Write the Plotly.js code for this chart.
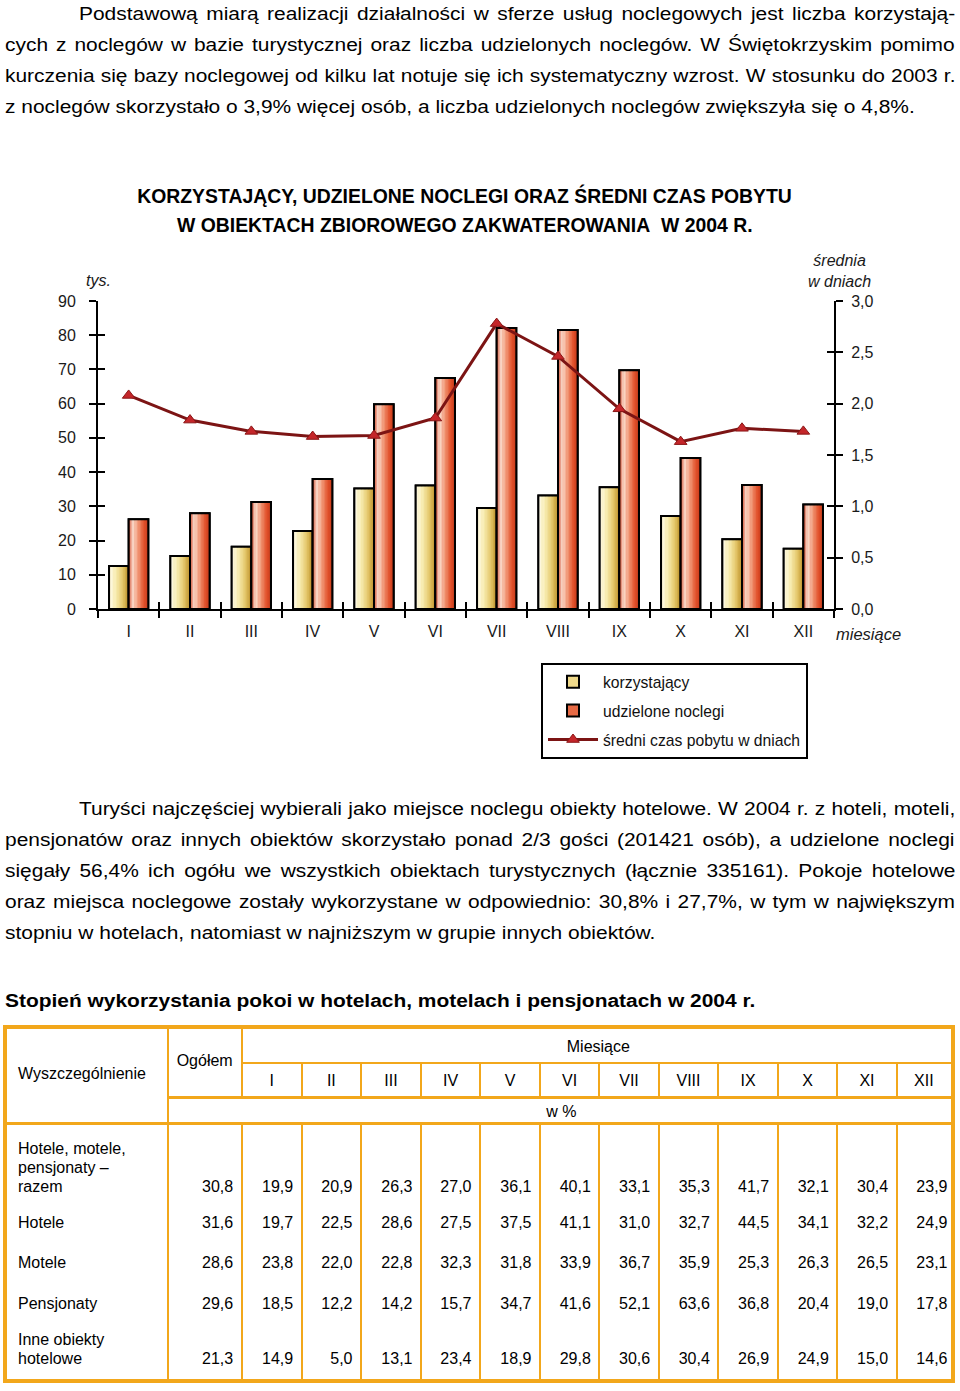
<!DOCTYPE html>
<html lang="pl">
<head>
<meta charset="utf-8">
<script src="https://cdn.plot.ly/plotly-3.0.1.min.js"></script>
<style>
  html,body{margin:0;padding:0;background:#fff;}
  body{width:960px;height:1391px;position:relative;overflow:hidden;font-family:"Liberation Sans",Arial,sans-serif;color:#000;}
  .ln,.hd{position:absolute;height:31px;line-height:31px;font-size:18.7px;white-space:nowrap;transform:scaleX(1.12);transform-origin:0 50%;}
  .hd{font-weight:bold;}
  .ln span{display:inline-block;white-space:nowrap;}
  .cell{position:absolute;font-size:16px;line-height:19px;height:19px;white-space:nowrap;}
  .ol{position:absolute;background:#f2a71b;}
  #chart{position:absolute;left:0;top:160px;width:960px;height:620px;}
</style>
</head>
<body>
<div id="chart"></div>
<script>
// ---------------- DATA ----------------
const months = ['I','II','III','IV','V','VI','VII','VIII','IX','X','XI','XII'];
const guests = [12.6,15.5,18.2,22.8,35.2,36.1,29.5,33.2,35.6,27.2,20.4,17.6];      // korzystający (tys.)
const nights = [26.2,28.0,31.3,38.0,59.8,67.5,82.1,81.5,69.8,44.1,36.2,30.5];      // udzielone noclegi (tys.)
const avgStay = [2.08,1.84,1.73,1.68,1.69,1.86,2.78,2.46,1.95,1.63,1.76,1.73];     // średni czas pobytu (dni)
const leftTicks = [0,10,20,30,40,50,60,70,80,90];

const tableMonths = ['I','II','III','IV','V','VI','VII','VIII','IX','X','XI','XII'];
const rowLabels = [['Hotele, motele,','pensjonaty –','razem'],['Hotele'],['Motele'],['Pensjonaty'],['Inne obiekty','hotelowe']];
const totals = [30.8,31.6,28.6,29.6,21.3];
const rowRazem = [19.9,20.9,26.3,27.0,36.1,40.1,33.1,35.3,41.7,32.1,30.4,23.9];
const rowHotele = [19.7,22.5,28.6,27.5,37.5,41.1,31.0,32.7,44.5,34.1,32.2,24.9];
const rowMotele = [23.8,22.0,22.8,32.3,31.8,33.9,36.7,35.9,25.3,26.3,26.5,23.1];
const rowPensjonaty = [18.5,12.2,14.2,15.7,34.7,41.6,52.1,63.6,36.8,20.4,19.0,17.8];
const rowInne = [14.9,5.0,13.1,23.4,18.9,29.8,30.6,30.4,26.9,24.9,15.0,14.6];

const para1 = [
  'Podstawową miarą realizacji działalności w sferze usług noclegowych jest liczba korzystają-',
  'cych z noclegów w bazie turystycznej oraz liczba udzielonych noclegów. W Świętokrzyskim pomimo',
  'kurczenia się bazy noclegowej od kilku lat notuje się ich systematyczny wzrost. W stosunku do 2003 r.',
  'z noclegów skorzystało o 3,9% więcej osób, a liczba udzielonych noclegów zwiększyła się o 4,8%.'
];
const para2 = [
  'Turyści najczęściej wybierali jako miejsce noclegu obiekty hotelowe. W 2004 r. z hoteli, moteli,',
  'pensjonatów oraz innych obiektów skorzystało ponad 2/3 gości (201421 osób), a udzielone noclegi',
  'sięgały 56,4% ich ogółu we wszystkich obiektach turystycznych (łącznie 335161). Pokoje hotelowe',
  'oraz miejsca noclegowe zostały wykorzystane w odpowiednio: 30,8% i 27,7%, w tym w największym',
  'stopniu w hotelach, natomiast w najniższym w grupie innych obiektów.'
];
const tableHeading = 'Stopień wykorzystania pokoi w hotelach, motelach i pensjonatach w 2004 r.';

// ---------------- TEXT ----------------
const SX = 1.12;
const justified = [];
function addPara(lines, firstCenter) {
  lines.forEach((t, i) => {
    const d = document.createElement('div');
    d.className = 'ln';
    const indent = i === 0 ? 74 : 0;
    d.style.left = (5 + indent) + 'px';
    d.style.top = (firstCenter + i * 31.1 - 15.5) + 'px';
    const s = document.createElement('span');
    s.textContent = t;
    d.appendChild(s);
    document.body.appendChild(d);
    if (i < lines.length - 1) justified.push({span: s, target: (950 - indent) / SX});
  });
}
addPara(para1, 13);
addPara(para2, 808);
const hd = document.createElement('div');
hd.className = 'hd';
hd.style.left = '5px';
hd.style.top = (1000 - 15.5) + 'px';
hd.textContent = tableHeading;
document.body.appendChild(hd);

function justify() {
  justified.forEach(o => {
    o.span.style.wordSpacing = '0px';
    const w = o.span.offsetWidth;
    const n = (o.span.textContent.match(/ /g) || []).length;
    if (n > 0) o.span.style.wordSpacing = ((o.target - w) / n) + 'px';
  });
}
justify();
if (document.fonts && document.fonts.ready) document.fonts.ready.then(justify);

// ---------------- TABLE ----------------
const edges = [167.7, 241.7, 301.7, 361, 421, 480, 540, 599.3, 658.7, 718.3, 777.7, 837.3, 896.7, 951];
function box(x, y, w, h) {
  const d = document.createElement('div');
  d.className = 'ol';
  d.style.left = x + 'px'; d.style.top = y + 'px';
  d.style.width = w + 'px'; d.style.height = h + 'px';
  document.body.appendChild(d);
}
function txt(str, x, yc, align) {
  const d = document.createElement('div');
  d.className = 'cell';
  d.textContent = str;
  d.style.top = (yc - 9.5) + 'px';
  if (align === 'left') { d.style.left = x + 'px'; }
  else if (align === 'right') { d.style.right = (960 - x) + 'px'; d.style.textAlign = 'right'; }
  else { d.style.left = (x - 100) + 'px'; d.style.width = '200px'; d.style.textAlign = 'center'; }
  document.body.appendChild(d);
}
// outer border
box(3, 1025, 952, 4); box(3, 1379, 952, 4); box(3, 1025, 4, 358); box(951, 1025, 4, 358);
// horizontal inner lines
box(241.7, 1061.7, 711, 2);
box(167.7, 1095.5, 785, 3);
box(5, 1122, 948, 3);
// vertical inner lines
box(166.7, 1027, 2, 354);
box(240.7, 1027, 2, 70); box(240.7, 1123, 2, 258);
for (let i = 2; i < edges.length - 1; i++) {
  box(edges[i] - 1, 1062, 2, 35);
  box(edges[i] - 1, 1123, 2, 258);
}
// header texts
txt('Wyszczególnienie', 18, 1073.5, 'left');
txt('Ogółem', (edges[0] + edges[1]) / 2, 1060.5, 'center');
txt('Miesiące', (edges[1] + 953) / 2 + 1, 1046, 'center');
tableMonths.forEach((m, i) => txt(m, (edges[i + 1] + edges[i + 2]) / 2, 1080.5, 'center'));
txt('w %', (edges[0] + 953) / 2 + 1, 1111.5, 'center');
// body
const fmt = v => v.toFixed(1).replace('.', ',');
const bodyRows = [rowRazem, rowHotele, rowMotele, rowPensjonaty, rowInne];
const rowY = [1186, 1222.5, 1262.5, 1303, 1358.5];
bodyRows.forEach((row, r) => {
  const lab = rowLabels[r];
  lab.forEach((l, k) => txt(l, 18, rowY[r] - (lab.length - 1 - k) * 19, 'left'));
  txt(fmt(totals[r]), edges[1] - 8.5, rowY[r], 'right');
  row.forEach((v, i) => {
    const right = i === row.length - 1 ? 947.5 : edges[i + 2] - 8.5;
    txt(fmt(v), right, rowY[r], 'right');
  });
});

// ---------------- CHART ----------------
function hex2rgb(h) { return [1,3,5].map(i => parseInt(h.substr(i,2),16)); }
function interp(stops, t) {
  for (let i = 0; i < stops.length - 1; i++) {
    const [t0, c0] = stops[i], [t1, c1] = stops[i+1];
    if (t >= t0 && t <= t1) {
      const f = (t - t0) / (t1 - t0), a = hex2rgb(c0), b = hex2rgb(c1);
      return 'rgb(' + a.map((v, k) => Math.round(v + (b[k] - v) * f)).join(',') + ')';
    }
  }
  return stops[stops.length-1][1];
}
const Y_STOPS = [[0,'#fffcee'],[0.35,'#f8edb2'],[0.7,'#e3c567'],[1,'#b88a22']];
const R_STOPS = [[0,'#cc3a1c'],[0.2,'#fbe0d2'],[0.5,'#f19674'],[0.78,'#e1502a'],[1,'#c43818']];
const N = 14;

const traces = [];
function barSeries(vals, name, off, w, stops, legendColor, grp) {
  traces.push({type:'bar', x:months, y:vals, name:name, offset:off, width:w,
    marker:{color:legendColor, line:{color:'#000', width:2}}, legendgroup:grp, hoverinfo:'skip'});
  for (let k = 0; k < N; k++) {
    traces.push({type:'bar', x:months, y:vals, offset:off + k * w / N,
      width: w / N + (k < N - 1 ? 0.004 : 0),
      marker:{color:interp(stops, (k + 0.5) / N), line:{width:0}},
      showlegend:false, hoverinfo:'skip', legendgroup:grp});
  }
  traces.push({type:'bar', x:months, y:vals, offset:off, width:w,
    marker:{color:'rgba(0,0,0,0)', line:{color:'#000', width:2}}, showlegend:false, hoverinfo:'skip', legendgroup:grp});
}
barSeries(guests, 'korzystający', -0.32, 0.32, Y_STOPS, '#efd98a', 'g1');
barSeries(nights, 'udzielone noclegi', 0.0, 0.32, R_STOPS, '#e76a45', 'g2');
traces.push({type:'scatter', mode:'lines+markers', x:months, y:avgStay, yaxis:'y2', name:'średni czas pobytu w dniach',
  line:{color:'#7c1414', width:3}, marker:{symbol:'triangle-up', size:11, color:'#c4262a', line:{color:'#8a1616', width:1}},
  legendgroup:'g3', hoverinfo:'skip'});
// helper traces hosting the inner halves of the crossing ticks
traces.push({type:'scatter', mode:'markers', x:months, y:guests, xaxis:'x2', yaxis:'y3', marker:{opacity:0}, showlegend:false, hoverinfo:'skip', legendgroup:'g4'});
traces.push({type:'scatter', mode:'markers', x:months, y:avgStay, xaxis:'x2', yaxis:'y4', marker:{opacity:0}, showlegend:false, hoverinfo:'skip', legendgroup:'g4'});

const PL = 98, PT = 141, PW = 736, PH = 308;
const px = X => (X - PL) / PW;              // page x -> paper x
const py = Y => (PT + PH - (Y - 160)) / PH; // page y -> paper y

const ax = {showgrid:false, zeroline:false, tickcolor:'#000', tickwidth:2, ticklen:7, tickfont:{size:16}};
const layout = {
  width:960, height:620,
  margin:{l:PL, r:960 - PL - PW, t:PT, b:620 - PT - PH, pad:0},
  paper_bgcolor:'#fff', plot_bgcolor:'rgba(0,0,0,0)',
  separators:', ',
  barmode:'overlay',
  font:{family:'"Liberation Sans", Arial, sans-serif', size:16, color:'#1a1a1a'},
  title:{text:'<b>KORZYSTAJĄCY, UDZIELONE NOCLEGI ORAZ ŚREDNI CZAS POBYTU</b>',
    x:464.5/960, xref:'container', xanchor:'center', y:1 - 36/620, yref:'container', yanchor:'middle',
    font:{size:19.4, color:'#000'}},
  annotations:[
    {text:'<b>W OBIEKTACH ZBIOROWEGO ZAKWATEROWANIA\u00a0 W 2004 R.</b>', xref:'paper', yref:'paper',
      x:px(464.5), y:py(225), xanchor:'center', yanchor:'middle', showarrow:false, font:{size:19.4, color:'#000'}},
    {text:'<i>tys.</i>', xref:'paper', yref:'paper', x:px(98.5), y:py(280.5), xanchor:'center', yanchor:'middle', showarrow:false, font:{size:16}},
    {text:'<i>średnia<br>w dniach</i>', xref:'paper', yref:'paper', x:px(839.5), y:py(270.5), xanchor:'center', yanchor:'middle', showarrow:false, font:{size:16}},
    {text:'<i>miesiące</i>', xref:'paper', yref:'paper', x:px(868.5), y:py(634), xanchor:'center', yanchor:'middle', showarrow:false, font:{size:16.5}}
  ],
  xaxis:Object.assign({}, ax, {type:'category', categoryarray:months, range:[-0.5, 11.5], tickson:'boundaries', ticks:'outside',
    showline:true, linecolor:'#000', linewidth:2, ticklabelstandoff:7, fixedrange:true}),
  xaxis2:Object.assign({}, ax, {type:'category', categoryarray:months, overlaying:'x', anchor:'y', side:'bottom', range:[-0.5, 11.5],
    tickson:'boundaries', ticks:'inside', showticklabels:false, showline:false}),
  yaxis:Object.assign({}, ax, {range:[0, 90], tickmode:'array', tickvals:leftTicks, ticks:'outside', showline:true, linecolor:'#000', linewidth:2,
    ticklabelstandoff:10}),
  yaxis2:Object.assign({}, ax, {overlaying:'y', side:'right', anchor:'x', range:[0, 3], dtick:0.5, tickformat:'.1f', ticks:'outside',
    showline:true, linecolor:'#000', linewidth:2, ticklabelstandoff:5}),
  yaxis3:Object.assign({}, ax, {overlaying:'y', side:'left', anchor:'x', range:[0, 90], tickmode:'array', tickvals:leftTicks, ticks:'inside', showticklabels:false, showline:false}),
  yaxis4:Object.assign({}, ax, {overlaying:'y', side:'right', anchor:'x', range:[0, 3], dtick:0.5, ticks:'inside', showticklabels:false, showline:false}),
  legend:{x:px(541), y:py(663), xanchor:'left', yanchor:'top', bordercolor:'#000', borderwidth:2, bgcolor:'#fff',
    font:{size:15.7, color:'#111'}, itemwidth:50, traceorder:'grouped', tracegroupgap:5.5, itemclick:false},
  showlegend:true
};
Plotly.newPlot('chart', traces, layout, {displayModeBar:false, staticPlot:true});
</script>
</body>
</html>
